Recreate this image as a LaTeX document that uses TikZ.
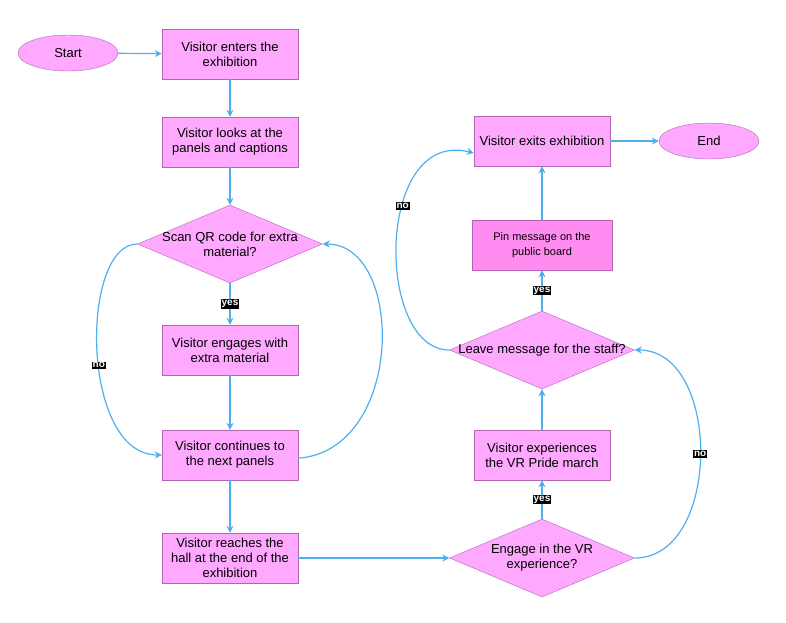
\documentclass[tikz,border=0pt]{standalone}
\usepackage{fontspec}
\setmainfont{Liberation Sans}
\usetikzlibrary{shapes.geometric,arrows.meta}
\definecolor{boxfill}{RGB}{255,168,255}
\definecolor{pinfill}{RGB}{255,140,240}
\definecolor{boxline}{RGB}{178,102,178}
\definecolor{flow}{RGB}{77,176,238}
\tikzset{
    step box/.style = {
        rectangle,
        draw      = boxline,
        fill      = boxfill,
        minimum width  = 136pt,
        minimum height = 50pt,
        align     = center,
        font      = \fontsize{13}{15}\selectfont,
    },
    terminal/.style = {
        ellipse,
        draw      = boxline,
        fill      = boxfill,
        minimum width  = 100pt,
        minimum height = 36pt,
        font      = \fontsize{13}{15}\selectfont,
    },
    choice/.style = {
        diamond,
        draw      = boxline,
        fill      = boxfill,
        inner sep = 0pt,
        minimum width  = 185pt,
        minimum height = 78pt,
    },
    choice text/.style = {
        align = center,
        font  = \fontsize{13}{15}\selectfont,
    },
    tag/.style = {
        fill  = black,
        text  = white,
        inner sep = 1pt,
        font  = \fontsize{10}{11}\selectfont\bfseries,
    },
    flowline/.style = {
        draw = flow,
        line width = 1.2pt,
        -{Stealth[length=7pt,width=7pt]},
    }
}

\begin{document}
\begin{tikzpicture}[x=1pt, y=-1pt]
  % page frame in pixels of the original
  \path[use as bounding box] (0,0) rectangle (786,622);

  \node[terminal] (start) at (68,53) {Start};
  \node[step box] (enter) at (230,54) {Visitor enters the\\exhibition};
  \node[step box] (look) at (230,142) {Visitor looks at the\\panels and captions};
  \node[choice] (qr) at (230,244) {};
  \node[choice text] at (qr) {Scan QR code for extra\\material?};
  \node[step box] (extra) at (230,350) {Visitor engages with\\extra material};
  \node[step box] (next) at (230,455) {Visitor continues to\\the next panels};
  \node[step box] (hall) at (230,558) {Visitor reaches the\\hall at the end of the\\exhibition};

  \node[choice] (vr) at (542,558) {};
  \node[choice text] at (vr) {Engage in the VR\\experience?};
  \node[step box] (march) at (542,455) {Visitor experiences\\the VR Pride march};
  \node[choice] (msg) at (542,350) {};
  \node[choice text] at (msg) {Leave message for the staff?};
  \node[step box, fill=pinfill, minimum width=140pt,
        font=\fontsize{11}{15}\selectfont] (pin) at (542,245)
    {Pin message on the\\public board};
  \node[step box] (exit) at (542,141) {Visitor exits exhibition};
  \node[terminal] (end) at (709,141) {End};

  \draw[flowline] (start) -- (enter);
  \draw[flowline] (enter) -- (look);
  \draw[flowline] (look) -- (qr);
  \draw[flowline] (qr) -- node[tag] {yes} (extra);
  \draw[flowline] (extra) -- (next);
  \draw[flowline] (next) -- (hall);
  \draw[flowline] (hall) -- (vr);
  \draw[flowline] (vr) -- node[tag] {yes} (march);
  \draw[flowline] (march) -- (msg);
  \draw[flowline] (msg) -- node[tag] {yes} (pin);
  \draw[flowline] (pin) -- (exit);
  \draw[flowline] (exit) -- (end);

  % the loops that go round
  \draw[flowline] (qr.west) .. controls (80,244) and (80,455) ..
    node[tag, pos=0.55] {no} (next.west);
  \draw[flowline] (next.south east) ++(0,-22) coordinate (nx)
    (nx) .. controls (405,450) and (405,244) .. (qr.east);
  \draw[flowline] (msg.west) .. controls (375,350) and (375,128) ..
    node[tag, pos=0.62] {no} ([yshift=-12pt]exit.west);
  \draw[flowline] (vr.east) .. controls (722,558) and (722,350) ..
    node[tag] {no} (msg.east);
\end{tikzpicture}
\end{document}
